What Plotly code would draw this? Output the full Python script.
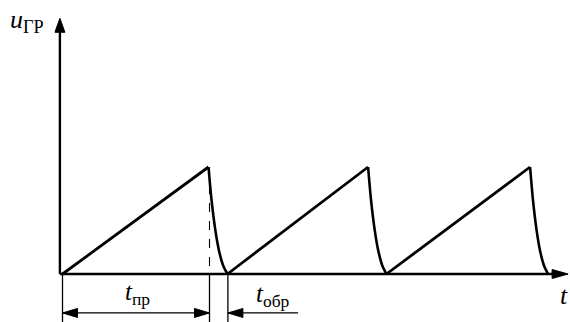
import plotly.graph_objects as go

# временные точки пилы (условные единицы времени)
ramp_start = [0.0, 8.25, 16.2]
peak_t = [7.3, 15.28, 23.38]
fall_end = [8.25, 16.2, 24.28]
u_peak = 1.0

# форма обратного хода (доли длительности и амплитуды)
fall_dt_frac = [0.0, 0.16, 0.36, 0.55, 0.77, 1.0]
fall_u_frac = [1.0, 0.69, 0.41, 0.22, 0.08, 0.0]

t_axis_end = 25.28
u_axis_end = 2.39
t_dim_y = -0.364
t_obr_line_end = 11.78

# масштаб: пикселей на единицу
PX_T = 20.0
PX_U = 107.0
X0 = -62.5 / PX_T
Y_BOTTOM = -48.0 / PX_U
Y_TOP = 274.0 / PX_U

fig = go.Figure()

# прямой ход
for t0, t1 in zip(ramp_start, peak_t):
    fig.add_trace(go.Scatter(x=[t0, t1], y=[0, u_peak], mode="lines",
                             line=dict(color="black", width=2.8)))

# обратный ход
for t1, t2 in zip(peak_t, fall_end):
    xs = [t1 + f * (t2 - t1) for f in fall_dt_frac]
    ys = [u_peak * f for f in fall_u_frac]
    fig.add_trace(go.Scatter(x=xs, y=ys, mode="lines",
                             line=dict(color="black", width=2.6, shape="spline", smoothing=0.8)))


def arrow_head(tx, ty, direction, length=15, half=4.5):
    # наконечник стрелки в координатах данных
    lt, wt = length / PX_T, half / PX_T
    lu, wu = length / PX_U, half / PX_U
    if direction == "up":
        pts = [(tx, ty), (tx - wt, ty - lu), (tx + wt, ty - lu)]
    elif direction == "right":
        pts = [(tx, ty), (tx - lt, ty + wu), (tx - lt, ty - wu)]
    else:
        pts = [(tx, ty), (tx + lt, ty + wu), (tx + lt, ty - wu)]
    path = "M " + " L ".join(f"{a:.4f},{b:.4f}" for a, b in pts) + " Z"
    return dict(type="path", path=path, xref="x", yref="y",
                fillcolor="black", line=dict(color="black", width=1))


def seg(x0, y0, x1, y1, width=1.3, dash="solid"):
    return dict(type="line", x0=x0, y0=y0, x1=x1, y1=y1, xref="x", yref="y",
                line=dict(color="black", width=width, dash=dash))


shapes = [
    # оси
    seg(-0.13, 0, t_axis_end - 0.5, 0, width=2.4),
    seg(-0.13, 0, -0.13, u_axis_end - 0.1, width=2.4),
    arrow_head(t_axis_end, 0, "right", length=16, half=4.5),
    arrow_head(-0.13, u_axis_end, "up", length=14, half=5),
    # выносные линии
    seg(0.0, 0, 0.0, Y_BOTTOM),
    seg(peak_t[0] + 0.05, u_peak, peak_t[0] + 0.05, 0, width=1.1, dash="dash"),
    seg(peak_t[0] + 0.05, 0, peak_t[0] + 0.05, Y_BOTTOM),
    seg(fall_end[0] + 0.02, 0, fall_end[0] + 0.02, Y_BOTTOM),
    # размерные линии
    seg(0.0, t_dim_y, peak_t[0] + 0.05, t_dim_y),
    arrow_head(0.0, t_dim_y, "left"),
    arrow_head(peak_t[0] + 0.05, t_dim_y, "right"),
    seg(fall_end[0] + 0.02, t_dim_y, t_obr_line_end, t_dim_y),
    arrow_head(fall_end[0] + 0.02, t_dim_y, "left"),
]

serif = "Liberation Serif"


def label(x, y, text, size, anchor="left"):
    return dict(x=x, y=y, xref="x", yref="y", showarrow=False,
                xanchor=anchor, yanchor="middle", text=text,
                font=dict(family=serif, size=size, color="black"))


annotations = [
    label(-2.75, 2.36, "<i>u</i><sub>ГР</sub>", 26),
    label(3.75, -0.185, "<i>t</i><sub>пр</sub>", 25, anchor="center"),
    label(10.5, -0.2, "<i>t</i><sub>обр</sub>", 25, anchor="center"),
    label(25.36, -0.2, "<i>t</i>", 26, anchor="right"),
]

fig.update_layout(
    width=570, height=322,
    margin=dict(l=0, r=0, t=0, b=0),
    paper_bgcolor="white", plot_bgcolor="white",
    showlegend=False,
    xaxis=dict(range=[X0, X0 + 570 / PX_T], visible=False, fixedrange=True),
    yaxis=dict(range=[Y_BOTTOM, Y_TOP], visible=False, fixedrange=True),
    shapes=shapes,
    annotations=annotations,
)

# убираем стандартный отступ body, чтобы рисунок начинался с (0, 0)
fig.write_html("out.html", config={"displayModeBar": False},
               post_script="document.body.style.margin='0';")
